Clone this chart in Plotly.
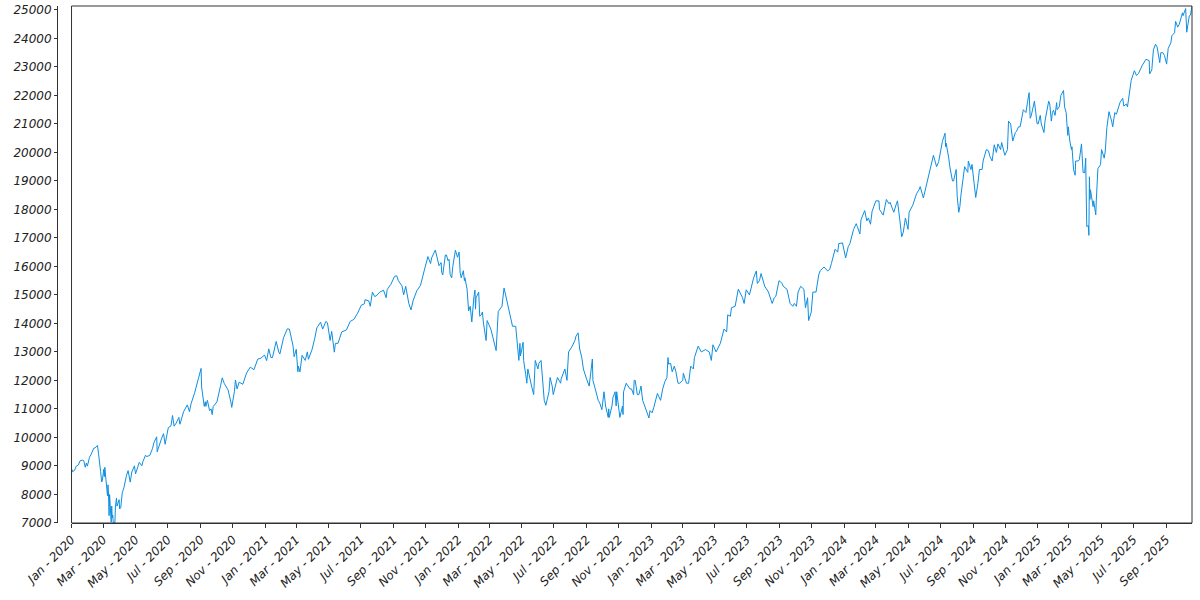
import plotly.graph_objects as go

dates = [
 "2020-01-02","2020-01-03","2020-01-07","2020-01-10","2020-01-14","2020-01-17","2020-01-22","2020-01-24","2020-01-27","2020-01-29","2020-01-31",
 "2020-02-04","2020-02-07","2020-02-12","2020-02-14","2020-02-19","2020-02-21","2020-02-24","2020-02-25","2020-02-27","2020-02-28",
 "2020-03-02","2020-03-03","2020-03-04","2020-03-05","2020-03-06","2020-03-09","2020-03-10","2020-03-11","2020-03-12","2020-03-13",
 "2020-03-16","2020-03-17","2020-03-18","2020-03-19","2020-03-20","2020-03-23","2020-03-24","2020-03-26","2020-03-27","2020-03-31",
 "2020-04-01","2020-04-03","2020-04-06","2020-04-09","2020-04-14","2020-04-17","2020-04-21","2020-04-24","2020-04-29",
 "2020-05-01","2020-05-06","2020-05-08","2020-05-13","2020-05-15","2020-05-20","2020-05-22","2020-05-28",
 "2020-06-02","2020-06-05","2020-06-10","2020-06-11","2020-06-15","2020-06-19","2020-06-23","2020-06-26",
 "2020-07-02","2020-07-07","2020-07-10","2020-07-13","2020-07-17","2020-07-22","2020-07-24","2020-07-31",
 "2020-08-07","2020-08-11","2020-08-14","2020-08-21","2020-08-28",
 "2020-09-02","2020-09-03","2020-09-08","2020-09-10","2020-09-11","2020-09-14","2020-09-18","2020-09-21","2020-09-23","2020-09-25",
 "2020-10-02","2020-10-09","2020-10-12","2020-10-16","2020-10-23","2020-10-28","2020-10-30",
 "2020-11-04","2020-11-06","2020-11-09","2020-11-13","2020-11-20","2020-11-27",
 "2020-12-04","2020-12-11","2020-12-18","2020-12-24","2020-12-31",
 "2021-01-04","2021-01-08","2021-01-12","2021-01-15","2021-01-22","2021-01-27","2021-01-29",
 "2021-02-05","2021-02-12","2021-02-16","2021-02-19","2021-02-23","2021-02-25",
 "2021-03-01","2021-03-04","2021-03-05","2021-03-08","2021-03-12","2021-03-18","2021-03-22","2021-03-24","2021-03-31",
 "2021-04-05","2021-04-09","2021-04-16","2021-04-20","2021-04-26","2021-04-29",
 "2021-05-04","2021-05-07","2021-05-12","2021-05-14","2021-05-19","2021-05-26",
 "2021-06-04","2021-06-11","2021-06-18","2021-06-25",
 "2021-07-02","2021-07-08","2021-07-09","2021-07-16","2021-07-19","2021-07-23","2021-07-27","2021-07-30",
 "2021-08-06","2021-08-13","2021-08-18","2021-08-20","2021-08-27",
 "2021-09-03","2021-09-07","2021-09-10","2021-09-17","2021-09-20","2021-09-24","2021-09-28","2021-09-30",
 "2021-10-04","2021-10-08","2021-10-15","2021-10-22","2021-10-29",
 "2021-11-05","2021-11-10","2021-11-12","2021-11-19","2021-11-26","2021-11-30",
 "2021-12-01","2021-12-03","2021-12-08","2021-12-10","2021-12-13","2021-12-15","2021-12-17","2021-12-20","2021-12-22","2021-12-27","2021-12-31",
 "2022-01-03","2022-01-05","2022-01-07","2022-01-11","2022-01-13","2022-01-14","2022-01-18","2022-01-21","2022-01-24","2022-01-27","2022-01-31",
 "2022-02-02","2022-02-03","2022-02-04","2022-02-09","2022-02-11","2022-02-14","2022-02-16","2022-02-18","2022-02-23","2022-02-25",
 "2022-03-01","2022-03-04","2022-03-08","2022-03-11","2022-03-14","2022-03-18","2022-03-25","2022-03-29",
 "2022-04-01","2022-04-05","2022-04-08","2022-04-12","2022-04-14","2022-04-20","2022-04-22","2022-04-26","2022-04-28","2022-04-29",
 "2022-05-04","2022-05-05","2022-05-09","2022-05-11","2022-05-13","2022-05-18","2022-05-20","2022-05-24","2022-05-27",
 "2022-06-01","2022-06-03","2022-06-07","2022-06-10","2022-06-13","2022-06-16","2022-06-22","2022-06-24","2022-06-28","2022-06-30",
 "2022-07-05","2022-07-08","2022-07-14","2022-07-15","2022-07-22","2022-07-26","2022-07-29",
 "2022-08-05","2022-08-10","2022-08-12","2022-08-16","2022-08-19","2022-08-23","2022-08-26",
 "2022-09-01","2022-09-06","2022-09-12","2022-09-13","2022-09-16","2022-09-23","2022-09-26","2022-09-30",
 "2022-10-04","2022-10-07","2022-10-12","2022-10-13","2022-10-14","2022-10-19","2022-10-21","2022-10-25","2022-10-27","2022-10-28",
 "2022-11-03","2022-11-08","2022-11-09","2022-11-10","2022-11-15","2022-11-22","2022-11-25","2022-11-29","2022-11-30",
 "2022-12-02","2022-12-06","2022-12-09","2022-12-13","2022-12-16","2022-12-20","2022-12-22","2022-12-28","2022-12-30",
 "2023-01-03","2023-01-06","2023-01-11","2023-01-13","2023-01-19","2023-01-23","2023-01-27","2023-01-31",
 "2023-02-02","2023-02-03","2023-02-07","2023-02-10","2023-02-14","2023-02-17","2023-02-21","2023-02-24",
 "2023-03-02","2023-03-03","2023-03-09","2023-03-13","2023-03-17","2023-03-22","2023-03-24","2023-03-31",
 "2023-04-06","2023-04-14","2023-04-21","2023-04-25","2023-04-28",
 "2023-05-04","2023-05-12","2023-05-19","2023-05-24","2023-05-26","2023-05-31",
 "2023-06-02","2023-06-09","2023-06-15","2023-06-23","2023-06-26","2023-06-30",
 "2023-07-06","2023-07-14","2023-07-19","2023-07-21","2023-07-25","2023-07-28",
 "2023-08-02","2023-08-04","2023-08-11","2023-08-18","2023-08-22","2023-08-25","2023-08-31",
 "2023-09-06","2023-09-08","2023-09-15","2023-09-21","2023-09-26","2023-09-29",
 "2023-10-03","2023-10-06","2023-10-11","2023-10-17","2023-10-20","2023-10-24","2023-10-26","2023-10-31",
 "2023-11-03","2023-11-09","2023-11-14","2023-11-17","2023-11-24",
 "2023-12-01","2023-12-05","2023-12-08","2023-12-13","2023-12-15","2023-12-20","2023-12-22","2023-12-29",
 "2024-01-04","2024-01-09","2024-01-12","2024-01-19","2024-01-24","2024-01-26","2024-01-31",
 "2024-02-02","2024-02-09","2024-02-13","2024-02-16","2024-02-20","2024-02-22","2024-02-23",
 "2024-03-01","2024-03-07","2024-03-08","2024-03-15","2024-03-21","2024-03-26","2024-03-28",
 "2024-04-04","2024-04-09","2024-04-11","2024-04-15","2024-04-19","2024-04-22","2024-04-26",
 "2024-05-01","2024-05-03","2024-05-10","2024-05-15","2024-05-17","2024-05-22","2024-05-24","2024-05-30",
 "2024-06-05","2024-06-07","2024-06-12","2024-06-14","2024-06-18","2024-06-24","2024-06-28",
 "2024-07-05","2024-07-10","2024-07-11","2024-07-12","2024-07-17","2024-07-19","2024-07-24","2024-07-26","2024-07-31",
 "2024-08-02","2024-08-05","2024-08-07","2024-08-09","2024-08-13","2024-08-16","2024-08-22","2024-08-23","2024-08-28","2024-08-30",
 "2024-09-03","2024-09-06","2024-09-10","2024-09-13","2024-09-18","2024-09-20","2024-09-26","2024-09-30",
 "2024-10-03","2024-10-07","2024-10-11","2024-10-15","2024-10-18","2024-10-23","2024-10-25","2024-10-31",
 "2024-11-05","2024-11-07","2024-11-11","2024-11-15","2024-11-20","2024-11-22","2024-11-26","2024-11-29",
 "2024-12-05","2024-12-10","2024-12-13","2024-12-16","2024-12-18","2024-12-20","2024-12-26","2024-12-31",
 "2025-01-02","2025-01-06","2025-01-08","2025-01-10","2025-01-13","2025-01-15","2025-01-17","2025-01-22","2025-01-24","2025-01-27","2025-01-29","2025-01-31",
 "2025-02-03","2025-02-06","2025-02-07","2025-02-11","2025-02-14","2025-02-19","2025-02-21","2025-02-24","2025-02-27","2025-02-28",
 "2025-03-03","2025-03-06","2025-03-07","2025-03-10","2025-03-13","2025-03-14","2025-03-19","2025-03-21","2025-03-25","2025-03-28","2025-03-31",
 "2025-04-02","2025-04-03","2025-04-04","2025-04-07","2025-04-08","2025-04-09","2025-04-10","2025-04-11","2025-04-16","2025-04-17","2025-04-21","2025-04-22","2025-04-25","2025-04-30",
 "2025-05-02","2025-05-07","2025-05-09","2025-05-12","2025-05-16","2025-05-21","2025-05-23","2025-05-27","2025-05-30",
 "2025-06-06","2025-06-11","2025-06-13","2025-06-18","2025-06-20","2025-06-24","2025-06-27",
 "2025-07-03","2025-07-07","2025-07-11","2025-07-18","2025-07-25","2025-07-31",
 "2025-08-01","2025-08-05","2025-08-08","2025-08-12","2025-08-15","2025-08-20","2025-08-22","2025-08-26","2025-08-29",
 "2025-09-02","2025-09-05","2025-09-10","2025-09-12","2025-09-17","2025-09-19","2025-09-23","2025-09-26",
 "2025-10-02","2025-10-03","2025-10-08","2025-10-10","2025-10-13","2025-10-15","2025-10-17","2025-10-20",
]

values = [
 8873,8794,8848,8993,9030,9174,9200,9187,8952,9100,8991,
 9300,9401,9620,9623,9718,9446,9080,8800,8436,8462,
 8877,8620,8950,8670,8530,7948,8334,7977,7253,7993,
 7020,7589,7175,7270,6994,7007,7554,7865,7586,7813,
 7487,7528,8059,8231,8670,8832,8429,8784,9000,
 8718,9000,9121,9002,9152,9375,9324,9368,
 9600,9824,10020,9493,9740,9946,10130,9758,
 10341,10400,10768,10390,10503,10700,10461,10905,
 11139,10900,11176,11572,12069,
 12420,11771,11088,11250,11088,11300,10938,11000,10800,11085,
 11245,11826,12088,11885,11666,11270,11052,
 11600,12012,11700,11937,11863,12258,
 12464,12375,12743,12778,12888,
 12694,13105,12800,12804,13366,12990,12925,
 13500,13807,13800,13532,13200,12830,
 13090,12300,12500,12299,12880,12700,13000,12740,13090,
 13480,13845,14041,13800,14070,14020,
 13400,13720,12990,13300,13300,13700,
 13773,14069,14141,14360,
 14639,14690,14830,14793,14600,15100,14950,14959,
 15096,15166,14900,15190,15375,
 15653,15670,15500,15316,15000,15300,14900,14689,
 14472,14800,15146,15335,15850,
 16345,16100,16300,16573,16026,16135,
 15800,15700,16400,16400,16200,16250,15720,15600,16000,16567,16320,
 16501,15770,15600,15850,15500,15600,15200,14438,14600,14050,14930,
 15170,14500,14900,15100,14250,14300,14400,14014,13400,14100,
 13900,13800,13500,13300,13046,14420,14600,15240,
 15000,14700,14450,14150,13900,13900,13400,12700,13300,12855,
 13336,12700,12200,11900,12400,11900,11800,11500,12700,
 12400,12600,12700,11800,11300,11127,11600,12100,11800,11500,
 11850,12100,11900,12050,12400,12000,13000,
 13200,13400,13550,13667,13100,12800,12400,
 12050,11800,12750,12000,11800,11300,11200,10971,
 11600,11100,10700,11000,10700,11100,11400,11600,11100,11600,
 10700,11100,10800,11600,11900,11700,11700,11500,12000,
 12000,11500,11500,11800,11300,11100,11000,10679,10940,
 10862,11040,11400,11541,11300,11700,11950,12100,
 12800,12570,12600,12300,12500,12300,11900,11900,
 12000,12250,11900,11900,12500,12400,12800,13200,
 13000,13080,13000,12700,13250,
 13000,13300,13800,13700,14300,14250,
 14550,14600,15200,14900,14700,15180,
 15000,15600,15840,15400,15500,15750,
 15400,15300,15100,14700,14900,14950,15500,
 15400,15300,15200,14700,14600,14700,
 14600,15100,15300,15200,14550,14900,14100,14400,
 15100,15100,15700,15850,15980,
 15840,15900,16100,16500,16600,16500,16800,16825,
 16300,16700,16800,17300,17500,17400,17140,
 17640,17960,17600,17700,17480,17900,17930,
 18300,18300,18000,17800,18350,18200,18250,
 17900,18200,18300,17700,17040,17200,17700,
 17300,17900,18150,18500,18550,18700,18800,18400,
 18900,19000,19400,19660,19900,19500,19680,
 20390,20675,20200,20330,19800,19500,19000,19000,19400,
 18440,17900,18100,18500,19000,19500,19300,19700,19400,19580,
 18900,18420,18900,19400,19400,19700,20100,20060,
 19850,19700,20270,20000,20300,20100,20350,19900,
 20100,21100,21000,20400,20700,20740,20900,20900,
 21500,21400,21780,22100,21200,21290,21800,21012,
 21000,21300,21000,20850,20700,21100,21300,21800,21700,21100,21400,21480,
 21300,21750,21500,21600,22000,22175,21600,21400,20600,20900,
 20400,20100,20200,19400,19200,19700,19700,19750,20300,19300,19280,
 19800,18500,17400,17430,17090,19145,18350,18690,18100,18300,17810,18300,19430,19570,
 20100,19800,20050,20870,21430,21100,20900,21400,21340,
 21760,21900,21630,21700,21600,22190,22530,
 22870,22700,22780,23060,23270,23220,
 22760,22900,23600,23800,23700,23150,23500,23500,23400,
 23100,23650,23850,24100,24200,24600,24400,24500,
 24900,24800,25050,24220,24700,24800,24820,25140,
]

y_ticks = list(range(7000, 25001, 1000))

fig = go.Figure()
fig.add_trace(go.Scatter(
    x=dates, y=values, mode="lines",
    line=dict(color="#0d8ee0", width=1),
    showlegend=False,
))

tick_font = dict(family="DejaVu Sans", size=12, color="#222222", style="italic")

fig.update_layout(
    width=1200, height=600,
    paper_bgcolor="white", plot_bgcolor="white",
    margin=dict(l=57, r=8, t=6, b=77, autoexpand=False),
    xaxis=dict(
        domain=[0.0128, 1],
        range=["2020-01-01", "2025-10-20"],
        type="date",
        tick0="2020-01-01", dtick="M2",
        tickformat="%b - %Y",
        tickangle=-45,
        ticks="outside", ticklen=4, tickcolor="#333333",
        showgrid=False, zeroline=False,
        showline=True, linecolor="#333333", linewidth=1,
        tickfont=tick_font,
        automargin=False,
    ),
    yaxis=dict(
        anchor="free", position=0,
        range=[6994, 25140],
        tickvals=y_ticks,
        tickformat="d",
        ticks="outside", ticklen=3, tickcolor="#333333",
        showgrid=False, zeroline=False,
        showline=True, linecolor="#333333", linewidth=1,
        tickfont=tick_font,
        automargin=False,
    ),
    shapes=[dict(type="rect", xref="x domain", yref="y domain",
                 x0=0, x1=1, y0=0, y1=1,
                 line=dict(color="#333333", width=1), layer="above")],
)

fig.write_html("out.html",
               config={"displayModeBar": False},
               post_script="document.body.style.margin='0px';document.body.style.overflow='hidden';")
